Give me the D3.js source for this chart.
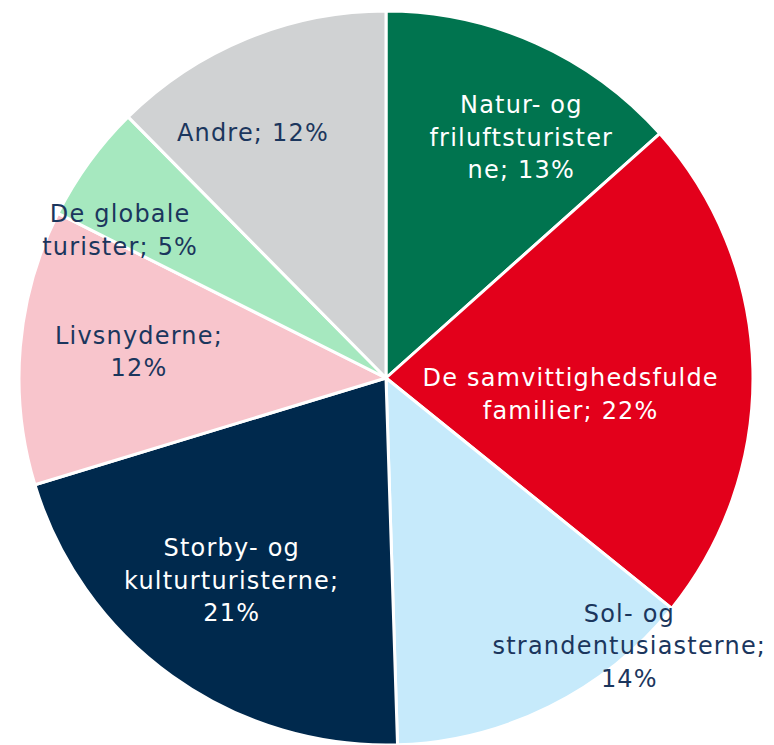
<!DOCTYPE html>
<html>
<head>
<meta charset="utf-8">
<script src="https://cdn.jsdelivr.net/npm/d3@7"></script>
<style>
  body { margin: 0; background: white; }
  svg text { font-family: "DejaVu Sans", sans-serif; }
</style>
</head>
<body>
<svg id="chart"></svg>
<script>
// segment names (reading clockwise from 12 o'clock)
let segments = ['Natur', 'Samvittighedsfulde', 'Sol', 'Storby', 'Livsnyderne', 'Globale', 'Andre'];
// share of each segment, percent (measured from slice angles)
let shares = [13.4, 22.4, 13.7, 20.8, 12.1, 5.2, 12.4];
// label texts as they are wrapped in the chart
let labelLines = [
  ['Natur- og', 'friluftsturister', 'ne; 13%'],
  ['De samvittighedsfulde', 'familier; 22%'],
  ['Sol- og', 'strandentusiasterne;', '14%'],
  ['Storby- og', 'kulturturisterne;', '21%'],
  ['Livsnyderne;', '12%'],
  ['De globale', 'turister; 5%'],
  ['Andre; 12%']
];

let colors = ['#00744f', '#e3001b', '#c6eafb', '#00294d', '#f8c5cc', '#a6e8bf', '#d0d2d3'];
let textColors = ['#ffffff', '#ffffff', '#1b365d', '#ffffff', '#1b365d', '#1b365d', '#1b365d'];
// label placement: shift from slice mid angle (degrees) and radius fraction
let labelShift = [5.2, 6.3, -15.8, 1.7, 1.3, -6.9, -6.1];
let labelRadius = [0.753, 0.505, 0.986, 0.693, 0.677, 0.829, 0.762];

function createChart() {
  let width = 774;
  let height = 745;
  let cx = 386, cy = 378, radius = 367;
  let lineHeight = 32.5;

  let svg = d3.select('#chart')
    .attr('width', width)
    .attr('height', height)
    .attr('viewBox', `0 0 ${width} ${height}`);
  svg.selectAll('*').remove();

  let data = segments.map((s, i) => ({ name: s, value: shares[i], idx: i }));

  let pie = d3.pie().sort(null).value(d => d.value);
  let arcs = pie(data);
  let arc = d3.arc().innerRadius(0).outerRadius(radius);

  let g = svg.append('g').attr('transform', `translate(${cx}, ${cy})`);

  g.selectAll('path')
    .data(arcs)
    .enter()
    .append('path')
    .attr('d', arc)
    .attr('fill', d => colors[d.data.idx])
    .attr('stroke', 'white')
    .attr('stroke-width', 3)
    .attr('stroke-linejoin', 'round');

  // labels
  let labels = g.selectAll('text.lbl')
    .data(arcs)
    .enter()
    .append('text')
    .attr('class', 'lbl')
    .attr('text-anchor', 'middle')
    .style('font-size', '24px')
    .style('letter-spacing', '1.2px')
    .attr('fill', d => textColors[d.data.idx])
    .attr('transform', d => {
      let i = d.data.idx;
      let a = (d.startAngle + d.endAngle) / 2 + labelShift[i] * Math.PI / 180;
      let r = radius * labelRadius[i];
      return `translate(${r * Math.sin(a)}, ${-r * Math.cos(a)})`;
    });

  labels.each(function(d) {
    let lines = labelLines[d.data.idx];
    let n = lines.length;
    d3.select(this).selectAll('tspan')
      .data(lines)
      .enter()
      .append('tspan')
      .attr('x', 0)
      .attr('y', (l, j) => (j - (n - 1) / 2) * lineHeight)
      .attr('dy', '0.36em')
      .text(l => l);
  });
}

createChart();
</script>
</body>
</html>
